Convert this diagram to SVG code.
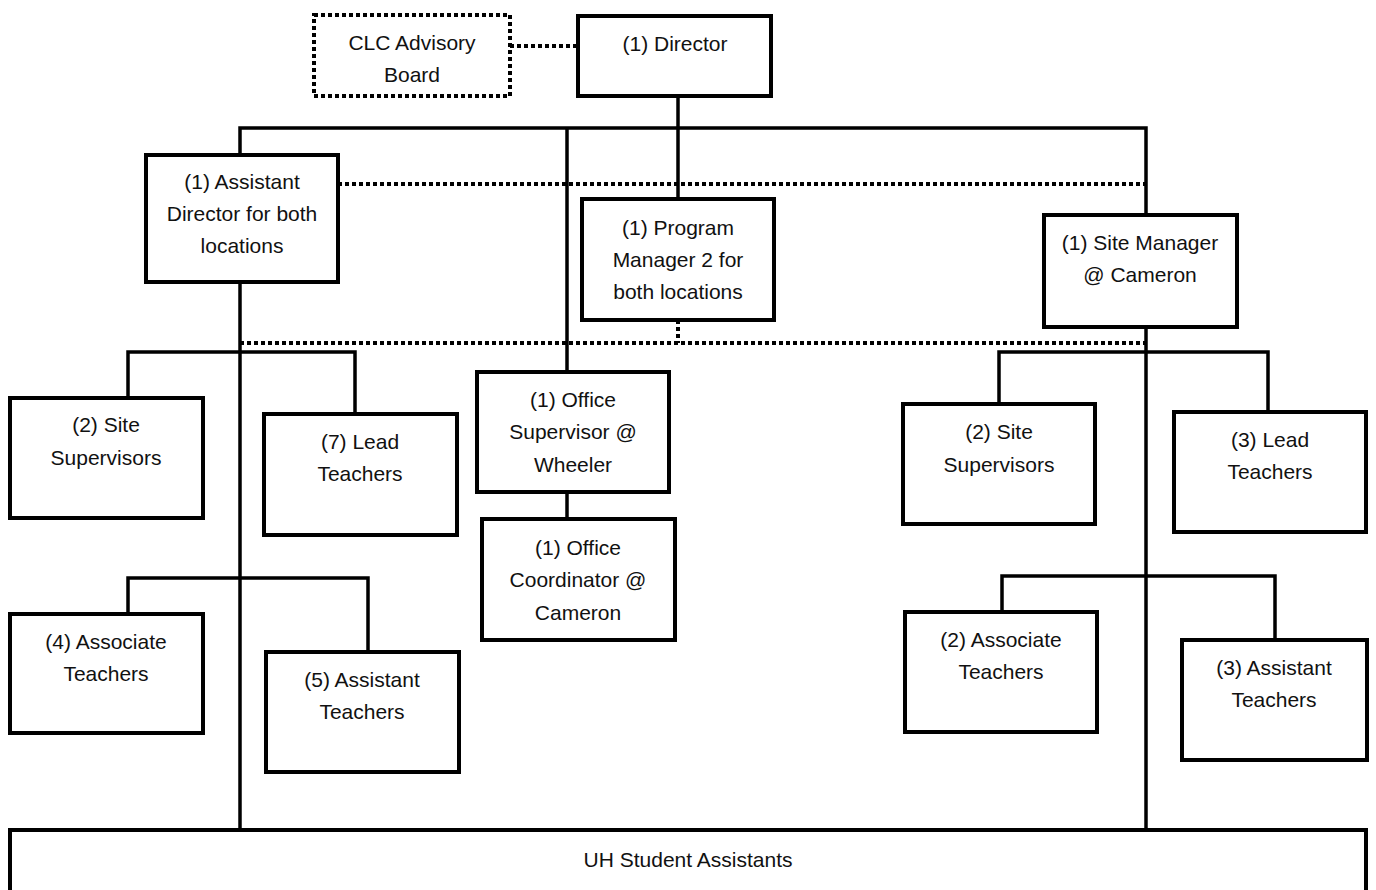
<svg xmlns="http://www.w3.org/2000/svg" width="1376" height="890" viewBox="0 0 1376 890">
<style>
.box{fill:#fff;stroke:#000;stroke-width:4}
.dbox{fill:#fff;stroke:#000;stroke-width:4;stroke-dasharray:4 3}
.ln{fill:none;stroke:#000;stroke-width:3.5}
.dl{fill:none;stroke:#000;stroke-width:4;stroke-dasharray:4 3}
text{font-family:"Liberation Sans",Arial,sans-serif;font-size:21px;fill:#111;text-anchor:middle}
</style>
<rect width="1376" height="890" fill="#fff"/>
<g id="connectors">
<path class="dl" d="M510 46H578"/>
<path class="ln" d="M678 96V199"/>
<path class="ln" d="M240 155V128H1146V215"/>
<path class="ln" d="M567 128V372"/>
<path class="dl" d="M338 184H1146"/>
<path class="dl" d="M678 320V343M240 343H1146"/>
<path class="ln" d="M240 282V830"/>
<path class="ln" d="M128 398V352H355V414"/>
<path class="ln" d="M567 492V519"/>
<path class="ln" d="M1146 327V830"/>
<path class="ln" d="M999 404V352H1268V412"/>
<path class="ln" d="M128 614V578H368V652"/>
<path class="ln" d="M1002 612V576H1275V640"/>
</g>
<g id="advisory"><rect class="dbox" x="314" y="15" width="196" height="81"/><text x="412" y="50">CLC Advisory</text><text x="412" y="82">Board</text></g>
<g id="director"><rect class="box" x="578" y="16" width="193" height="80"/><text x="675" y="51">(1) Director</text></g>
<g id="asstdirector"><rect class="box" x="146" y="155" width="192" height="127"/><text x="242" y="189">(1) Assistant</text><text x="242" y="221">Director for both</text><text x="242" y="253">locations</text></g>
<g id="progmanager"><rect class="box" x="582" y="199" width="192" height="121"/><text x="678" y="235">(1) Program</text><text x="678" y="267">Manager 2 for</text><text x="678" y="299">both locations</text></g>
<g id="sitemanager"><rect class="box" x="1044" y="215" width="193" height="112"/><text x="1140" y="250">(1) Site Manager</text><text x="1140" y="282">@ Cameron</text></g>
<g id="sitesupL"><rect class="box" x="10" y="398" width="193" height="120"/><text x="106" y="432">(2) Site</text><text x="106" y="465">Supervisors</text></g>
<g id="leadL"><rect class="box" x="264" y="414" width="193" height="121"/><text x="360" y="449">(7) Lead</text><text x="360" y="481">Teachers</text></g>
<g id="officesup"><rect class="box" x="477" y="372" width="192" height="120"/><text x="573" y="407">(1) Office</text><text x="573" y="439">Supervisor @</text><text x="573" y="472">Wheeler</text></g>
<g id="officecoord"><rect class="box" x="482" y="519" width="193" height="121"/><text x="578" y="555">(1) Office</text><text x="578" y="587">Coordinator @</text><text x="578" y="620">Cameron</text></g>
<g id="sitesupR"><rect class="box" x="903" y="404" width="192" height="120"/><text x="999" y="439">(2) Site</text><text x="999" y="472">Supervisors</text></g>
<g id="leadR"><rect class="box" x="1174" y="412" width="192" height="120"/><text x="1270" y="447">(3) Lead</text><text x="1270" y="479">Teachers</text></g>
<g id="assocL"><rect class="box" x="10" y="614" width="193" height="119"/><text x="106" y="649">(4) Associate</text><text x="106" y="681">Teachers</text></g>
<g id="asstL"><rect class="box" x="266" y="652" width="193" height="120"/><text x="362" y="687">(5) Assistant</text><text x="362" y="719">Teachers</text></g>
<g id="assocR"><rect class="box" x="905" y="612" width="192" height="120"/><text x="1001" y="647">(2) Associate</text><text x="1001" y="679">Teachers</text></g>
<g id="asstR"><rect class="box" x="1182" y="640" width="185" height="120"/><text x="1274" y="675">(3) Assistant</text><text x="1274" y="707">Teachers</text></g>
<g id="uh"><rect class="box" x="10" y="830" width="1356" height="70"/><text x="688" y="867">UH Student Assistants</text></g>
</svg>
